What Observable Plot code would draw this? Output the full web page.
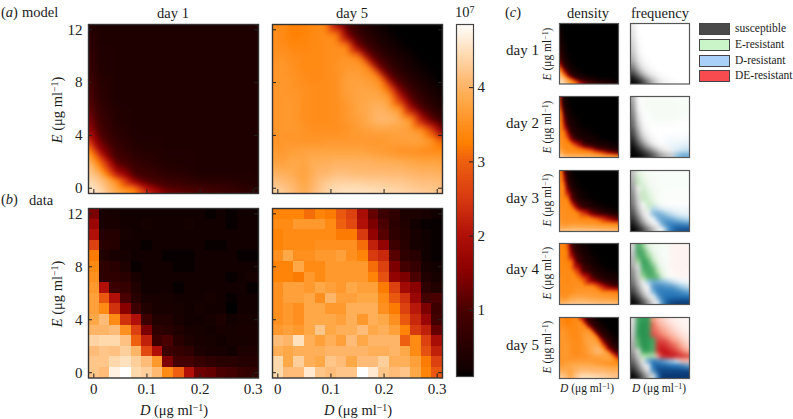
<!DOCTYPE html>
<html><head><meta charset="utf-8">
<script src="https://cdn.jsdelivr.net/npm/d3@7"></script>
<script src="https://cdn.jsdelivr.net/npm/@observablehq/plot@0.6"></script>
<style>
html,body{margin:0;background:#fff}
#c{position:relative;width:793px;height:419px;overflow:hidden;font-family:"Liberation Serif",serif;color:#1c1c1c}
#c>svg{position:absolute}
.t{position:absolute;white-space:nowrap;line-height:1;transform:translate(-50%,-50%)}
.l{position:absolute;white-space:nowrap;line-height:1;transform:translateY(-50%)}
.r{position:absolute;white-space:nowrap;line-height:1;transform:translate(-50%,-50%) rotate(-90deg)}
sup{font-size:.68em;line-height:0;vertical-align:baseline;position:relative;top:-.42em}
.sw{position:absolute;box-sizing:border-box;border:1px solid #444;width:31px;height:12px;left:699px}
</style></head><body><div id="c"></div>
<script>
// ---- colour scale (units of 10^7)
const levelStops=[0.11,0.2,0.5,1,1.5,2,2.5,3,3.24,3.5,3.8,4.1,4.4,4.85];
const levelColors=["#000000","#120000","#280000","#4a0000","#8a0000","#b01008","#d83a10","#ee6010","#ff8000","#ff9020","#ffa848","#ffbc78","#ffd8ac","#ffffff"];
const barTicks=[1,2,3,4];
const dTicks=[0,0.1,0.2,0.3];
const eTicks=[0,4,8,12];
const dDomain=[-0.01,0.31];
const eDomain=[-0.4,12.4];

// ---- panel (b): data, 16 doses of D x 16 doses of E
const dLevels=[0,0.02,0.04,0.06,0.08,0.1,0.12,0.14,0.16,0.18,0.2,0.22,0.24,0.26,0.28,0.3];
const eLevels=[12,11.2,10.4,9.6,8.8,8,7.2,6.4,5.6,4.8,4,3.2,2.4,1.6,0.8,0];
const dataDay1=[
[1.4,.3,.25,.2,.2,.2,.2,.2,.2,.2,.2,.15,.2,.15,.2,.2],
[1.7,.3,.3,.2,.2,.25,.2,.2,.2,.25,.2,.2,.2,.15,.2,.2],
[2.0,.45,.45,.25,.2,.2,.2,.2,.2,.2,.2,.2,.2,.2,.2,.2],
[2.6,.5,.45,.2,.2,.15,.2,.2,.2,.2,.2,.15,.15,.2,.2,.2],
[3.2,.4,.3,.25,.2,.2,.2,.15,.15,.15,.2,.2,.2,.2,.15,.15],
[3.4,.6,.5,.35,.15,.2,.2,.2,.15,.15,.2,.2,.2,.2,.2,.2],
[3.5,.6,.6,.5,.3,.2,.2,.2,.2,.2,.2,.2,.2,.15,.2,.25],
[3.6,2.0,.8,.7,.4,.2,.2,.2,.15,.2,.2,.2,.2,.2,.2,.15],
[3.7,2.9,2.0,1.0,.5,.3,.3,.25,.2,.2,.2,.25,.2,.15,.2,.2],
[3.7,3.4,2.4,1.5,.8,.4,.3,.3,.25,.2,.25,.2,.2,.1,.2,.2],
[3.8,4.1,3.4,2.4,2.0,.8,.4,.4,.3,.2,.2,.25,.35,.2,.25,.25],
[4.0,4.0,4.1,3.5,2.6,1.4,.6,.5,.4,.3,.25,.2,.3,.25,.3,.3],
[4.35,4.4,4.4,4.15,3.0,2.2,.8,1.0,.5,.35,.3,.25,.2,.25,.25,.3],
[4.1,4.2,4.15,4.3,4.0,2.7,2.0,.8,.7,.6,.35,.3,.3,.2,.35,.35],
[4.2,4.2,4.4,4.5,4.3,4.1,3.6,1.4,.9,.9,.7,.6,.5,.5,.45,.45],
[4.2,4.1,4.7,4.85,4.4,4.3,4.05,3.4,3.0,2.0,1.3,1.2,1.0,.9,.7,.65]];
const dataDay5=[
[3.3,3.3,3.3,3.1,3.3,3.2,2.9,2.6,1.9,1.2,.8,.6,.35,.35,.3,.2],
[3.4,3.4,3.6,3.6,3.6,3.4,3.0,2.7,2.0,1.4,1.0,.55,.4,.2,.15,.15],
[3.3,3.4,3.4,3.4,3.4,3.4,3.2,3.2,2.5,1.6,1.1,.6,.45,.3,.2,.15],
[3.3,3.4,3.4,3.4,3.5,3.5,3.5,3.5,3.1,2.2,1.6,.8,.5,.25,.2,.15],
[3.5,3.8,3.5,3.5,3.6,3.6,3.7,3.5,3.3,2.5,2.3,1.1,.6,.5,.2,.15],
[3.3,3.3,3.8,3.4,3.4,3.6,3.6,3.6,3.6,3.1,2.6,1.4,.9,.7,.3,.2],
[3.3,3.3,3.2,3.6,3.4,3.6,3.6,3.6,3.6,3.3,2.8,1.6,1.4,1.0,.4,.25],
[3.5,3.7,3.7,3.6,3.8,3.7,3.6,3.8,3.7,3.7,3.2,2.6,1.8,1.5,.6,.4],
[3.5,3.7,3.7,3.8,3.5,4.0,3.7,3.7,3.8,3.8,3.4,2.9,2.4,1.7,.9,1.0],
[3.5,3.6,3.5,3.8,3.8,3.6,3.6,3.9,3.9,3.9,3.5,3.2,2.6,2.1,1.4,.8],
[3.5,3.6,3.5,3.8,3.8,3.8,3.7,3.9,3.6,3.9,3.8,3.5,2.9,2.3,1.7,.9],
[3.6,3.7,3.6,3.8,4.2,3.8,3.9,3.9,4.1,3.8,3.9,3.7,3.3,2.5,2.2,1.2],
[4.1,4.0,4.5,3.9,3.7,3.9,3.7,4.1,3.8,4.0,4.0,4.0,3.0,3.4,2.6,1.9],
[3.9,3.8,3.9,3.9,3.9,4.0,4.0,4.0,4.0,3.9,3.9,4.0,3.8,3.4,2.8,2.2],
[4.4,3.8,4.3,3.9,3.8,4.2,4.1,3.8,4.1,4.1,4.3,3.9,3.9,3.7,3.2,2.6],
[4.4,4.1,4.1,4.6,4.2,4.1,4.2,4.2,4.85,4.6,4.2,4.1,4.2,3.8,3.3,2.9]];

// ---- panel (a): model day 1, rows per E (descending), columns per D
const m1D=[-0.01,0.0125,0.044,0.075,0.1,0.1375,0.2,0.31];
const m1E=[12.4,11,9,7,6,5,4,3,2,1.5,1,0.5,0,-0.4];
const modelDay1=[
[.4,.38,.38,.38,.38,.38,.38,.38],
[.6,.38,.38,.38,.38,.38,.38,.38],
[.75,.42,.38,.38,.38,.38,.38,.38],
[1.05,.55,.38,.38,.38,.38,.38,.38],
[1.25,.7,.42,.38,.38,.38,.38,.38],
[1.5,.85,.45,.38,.38,.38,.38,.38],
[2.1,1.05,.55,.4,.38,.38,.38,.38],
[3.3,1.6,.75,.5,.42,.38,.38,.38],
[4.1,3.0,1.05,.7,.55,.42,.38,.38],
[4.2,3.5,1.5,.85,.7,.48,.38,.38],
[4.3,3.95,2.2,1.05,.85,.6,.42,.38],
[4.45,4.2,3.45,1.8,1.1,.85,.55,.38],
[4.55,4.35,3.7,3.2,2.0,1.1,.9,.45],
[4.6,4.45,3.85,3.4,2.4,1.4,1.05,.5]];
// model day 5, 17 x 17 grid running over the whole panel
const m5D=[-0.01,0.01,0.03,0.05,0.07,0.09,0.11,0.13,0.15,0.17,0.19,0.21,0.23,0.25,0.27,0.29,0.31];
const m5E=[12.4,11.6,10.8,10,9.2,8.4,7.6,6.8,6,5.2,4.4,3.6,2.8,2,1.2,0.4,-0.4];
const modelDay5=[
[3.45,3.45,3.25,3.3,3.4,3.45,1.7,.95,.55,.35,.2,.13,.11,.11,.11,.11,.11],
[3.45,3.4,3.25,3.3,3.4,3.45,3.45,1.5,.85,.5,.3,.18,.12,.11,.11,.11,.11],
[3.5,3.45,3.35,3.35,3.4,3.45,3.5,3.45,1.4,.8,.47,.28,.17,.12,.11,.11,.11],
[3.5,3.55,3.45,3.4,3.4,3.45,3.5,3.55,3.45,1.5,.85,.5,.3,.18,.12,.11,.11],
[3.55,3.6,3.5,3.4,3.4,3.45,3.55,3.6,3.6,3.45,1.4,.8,.47,.28,.17,.12,.11],
[3.55,3.6,3.55,3.45,3.4,3.45,3.5,3.7,3.7,3.6,3.45,1.3,.75,.45,.27,.16,.12],
[3.55,3.6,3.55,3.5,3.45,3.45,3.5,3.7,3.75,3.75,3.65,2.9,1.3,.75,.45,.26,.15],
[3.55,3.6,3.6,3.5,3.45,3.45,3.5,3.65,3.75,3.8,3.8,3.7,2.3,1.15,.65,.4,.22],
[3.55,3.6,3.6,3.5,3.45,3.45,3.5,3.6,3.75,3.85,4.0,3.85,3.65,1.9,1.05,.6,.38],
[3.55,3.6,3.6,3.5,3.45,3.45,3.5,3.6,3.7,3.85,4.05,4.05,3.9,3.7,2,1.1,.6],
[3.55,3.6,3.6,3.55,3.5,3.5,3.5,3.55,3.65,3.7,3.75,3.75,3.75,3.7,3.6,2.7,1.25],
[3.55,3.6,3.55,3.55,3.55,3.6,3.6,3.6,3.6,3.6,3.6,3.65,3.7,3.75,3.75,3.6,3.0],
[3.65,3.6,3.7,3.75,3.75,3.75,3.75,3.75,3.75,3.7,3.65,3.6,3.5,3.5,3.45,3.45,3.45],
[3.75,3.7,3.85,3.75,3.9,3.9,3.95,3.95,3.95,3.95,3.9,3.9,3.85,3.8,3.75,3.75,3.7],
[3.95,3.9,3.85,3.7,3.95,4.0,4.1,4.1,4.05,4.05,4.05,4.05,4.05,4.0,3.95,3.95,3.9],
[4.2,4.1,4.0,3.75,4.05,4.25,4.35,4.35,4.35,4.3,4.3,4.25,4.25,4.2,4.15,4.15,4.1],
[4.4,4.3,4.1,3.85,4.15,4.35,4.5,4.55,4.55,4.55,4.5,4.45,4.4,4.35,4.3,4.25,4.2]];

// ---- panel (c): density, day 1 on the model-day-1 grid, days 2-4 on a shared grid
const densityDay1=[
[.12,.11,.11,.11,.11,.11,.11,.11],
[.2,.12,.11,.11,.11,.11,.11,.11],
[.3,.14,.11,.11,.11,.11,.11,.11],
[.55,.18,.12,.11,.11,.11,.11,.11],
[.8,.25,.13,.11,.11,.11,.11,.11],
[1.1,.35,.14,.12,.11,.11,.11,.11],
[1.9,.52,.18,.13,.11,.11,.11,.11],
[3.45,1.2,.27,.16,.13,.11,.11,.11],
[4.1,2.7,.55,.26,.18,.12,.11,.11],
[4.2,3.55,1.1,.38,.27,.15,.11,.11],
[4.3,3.9,2.2,.6,.4,.22,.13,.11],
[4.45,4.2,3.55,1.8,.8,.45,.2,.11],
[4.55,4.35,3.7,3.3,2.0,.9,.5,.15],
[4.6,4.45,3.85,3.4,2.4,1.4,.7,.22]];
const cU=[0,.04,.08,.13,.2,.3,.4,.55,.7,.85,1];
const cV=[0,.04,.08,.13,.2,.3,.4,.55,.7,.85,1];
const densityDay2=[
[4.5,4.4,4.3,4.3,4.2,4.2,4.2,4.15,4.1,4.05,3.9],
[4.3,4.1,3.9,3.8,3.8,3.8,3.75,3.7,3.6,3.3,3.0],
[4.1,3.8,3.6,3.55,3.5,3.5,3.5,3.45,2.9,1.7,.9],
[3.9,3.6,3.5,3.45,3.45,3.4,3.2,2.4,1.1,.6,.35],
[3.7,3.5,3.45,3.4,3.4,2.4,1.2,.6,.35,.22,.15],
[3.6,3.45,3.4,3.2,1.6,.6,.35,.22,.15,.12,.11],
[3.5,3.4,3.35,2.2,.7,.3,.2,.14,.11,.11,.11],
[3.5,3.3,1.9,.7,.3,.17,.12,.11,.11,.11,.11],
[3.4,3.1,.9,.35,.17,.12,.11,.11,.11,.11,.11],
[3.3,1.3,.4,.2,.13,.11,.11,.11,.11,.11,.11],
[3.1,.7,.25,.14,.11,.11,.11,.11,.11,.11,.11]];
const densityDay3=[
[4.3,4.3,4.3,4.3,4.3,4.3,4.3,4.25,4.2,4.2,4.15],
[4.0,3.95,3.95,4.0,4.05,4.05,4.05,4.0,4.0,3.95,3.9],
[3.85,3.75,3.7,3.75,3.8,3.8,3.8,3.8,3.75,3.7,3.6],
[3.75,3.6,3.55,3.55,3.6,3.6,3.55,3.55,3.5,3.4,3.35],
[3.65,3.55,3.5,3.5,3.5,3.5,3.45,3.4,2.8,1.9,1.1],
[3.6,3.5,3.5,3.45,3.45,3.4,2.6,1.3,.7,.4,.25],
[3.55,3.5,3.45,3.45,3.3,1.5,.7,.35,.2,.14,.12],
[3.5,3.45,3.4,3.3,1.2,.4,.2,.13,.11,.11,.11],
[3.5,3.4,3.35,1.5,.5,.2,.13,.11,.11,.11,.11],
[3.45,3.35,2.2,.6,.25,.13,.11,.11,.11,.11,.11],
[3.4,3.1,.9,.3,.15,.11,.11,.11,.11,.11,.11]];
const densityDay4=[
[4.2,4.2,4.25,4.3,4.35,4.35,4.35,4.3,4.25,4.25,4.2],
[3.95,3.85,3.85,3.95,4.05,4.1,4.1,4.05,4.0,4.0,3.95],
[3.8,3.65,3.6,3.7,3.85,3.9,3.9,3.85,3.8,3.75,3.7],
[3.65,3.55,3.5,3.55,3.7,3.75,3.75,3.7,3.65,3.6,3.55],
[3.55,3.5,3.45,3.45,3.5,3.6,3.6,3.6,3.5,3.45,3.3],
[3.5,3.45,3.45,3.45,3.45,3.5,3.5,3.45,2.4,1.3,.8],
[3.5,3.45,3.4,3.4,3.45,3.45,3.0,1.5,.7,.4,.25],
[3.45,3.4,3.4,3.4,3.4,2.6,1.1,.5,.25,.15,.12],
[3.45,3.4,3.35,3.35,3.2,1.1,.5,.22,.13,.11,.11],
[3.4,3.35,3.35,3.3,1.6,.6,.27,.14,.11,.11,.11],
[3.4,3.35,3.3,3.0,.9,.35,.17,.11,.11,.11,.11]];

// ---- panel (c): frequency, 12 x 12, rows top to bottom. Integer part = dominant type, fraction = its frequency
const types=["susceptible","E-resistant","D-resistant","DE-resistant"];
const typeSwatches=["#4a4a4a","#c9f5c9","#a9d0f9","#f74b50"];
const freqU=[.04,.125,.21,.29,.375,.458,.54,.625,.71,.79,.875,.96];
const freqV=[.96,.875,.79,.71,.625,.54,.458,.375,.29,.21,.125,.04];
const freqDay1=[
[.08,0,0,0,0,0,0,0,0,0,0,0],
[.1,0,0,0,0,0,0,0,0,0,0,0],
[.12,0,0,0,0,0,0,0,0,0,0,0],
[.15,.02,0,0,0,0,0,0,0,0,0,0],
[.18,.03,0,0,0,0,0,0,0,0,0,0],
[.22,.05,0,0,0,0,0,0,0,0,0,0],
[.28,.08,.02,0,0,0,0,0,0,0,0,0],
[.35,.13,.04,.01,0,0,0,0,0,0,0,0],
[.5,.22,.08,.03,.01,0,0,0,0,0,0,0],
[.65,.4,.18,.07,.03,.01,0,0,0,0,0,0],
[.85,.65,.42,.22,.1,.05,.02,.01,0,0,0,0],
[.97,.9,.72,.5,.28,.15,.07,.03,.02,.01,0,0]];
const freqDay2=[
[.35,1.02,1.03,1.04,1.04,1.04,1.04,1.04,1.04,1.03,1.03,1.03],
[.4,.03,1.03,1.05,1.05,1.05,1.05,1.05,1.05,1.04,1.04,1.04],
[.45,.05,1.02,1.04,1.05,1.05,1.05,1.05,1.05,1.04,1.04,1.04],
[.5,.1,.01,1.03,1.04,1.05,1.05,1.05,1.05,1.04,1.04,1.03],
[.55,.15,.02,1.01,1.03,1.04,1.04,1.04,1.03,1.03,1.02,1.02],
[.6,.22,.04,.01,1.01,1.02,1.02,1.02,1.02,1.01,1.01,1.01],
[.68,.32,.08,.02,0,0,0,0,0,0,0,0],
[.75,.42,.15,.05,.01,0,0,2.02,2.02,2.02,2.02,2.03],
[.85,.55,.27,.1,.03,.01,2.01,2.03,2.04,2.05,2.05,2.06],
[.93,.72,.48,.25,.1,.04,.02,2.05,2.08,2.1,2.12,2.15],
[.98,.88,.72,.55,.38,.2,.1,.05,2.1,2.15,2.2,2.25],
[.99,.97,.9,.8,.65,.5,.35,.25,.2,2.5,2.6,2.6]];
const freqDay3=[
[.25,1.15,1.08,1.05,1.04,1.03,1.03,1.03,1.03,1.03,1.03,1.03],
[.3,1.25,1.12,1.07,1.05,1.04,1.03,1.03,1.03,1.03,1.03,1.03],
[.35,1.3,1.17,1.08,1.05,1.04,1.03,1.03,1.03,1.03,1.03,1.03],
[.4,.05,1.25,1.12,1.06,1.05,1.03,1.03,1.03,1.03,1.03,1.03],
[.45,.1,1.32,1.18,1.08,1.05,1.03,1.02,1.02,1.02,1.02,1.02],
[.5,.15,1.3,1.25,1.1,1.05,1.03,1.02,1.02,1.02,1.02,1.02],
[.55,.2,.02,1.3,1.2,1.08,1.03,1.02,1.01,1.01,1.01,1.01],
[.62,.28,.05,1.2,2.35,2.3,2.15,2.1,2.08,2.06,2.06,2.06],
[.7,.4,.12,.02,2.55,2.6,2.55,2.4,2.25,2.15,2.1,2.1],
[.8,.55,.25,.06,.01,2.55,2.65,2.65,2.6,2.5,2.4,2.3],
[.9,.72,.45,.2,.06,.01,2.6,2.75,2.78,2.78,2.75,2.72],
[.98,.9,.72,.5,.28,.1,.02,2.6,2.85,2.9,2.92,2.92]];
const freqDay4=[
[.15,1.75,1.55,1.15,1.08,1.06,1.05,1.04,3.05,3.05,3.05,3.05],
[.2,1.75,1.7,1.35,1.1,1.07,1.05,1.04,3.05,3.06,3.06,3.06],
[.25,1.7,1.75,1.55,1.2,1.08,1.05,1.04,3.05,3.06,3.06,3.06],
[.3,1.5,1.78,1.7,1.35,1.1,1.06,1.04,3.05,3.06,3.06,3.06],
[.35,.1,1.75,1.75,1.6,1.2,1.08,1.05,3.05,3.06,3.06,3.06],
[.45,.15,1.65,1.75,1.7,1.4,1.12,1.05,3.04,3.06,3.06,3.05],
[.5,.2,1.45,1.7,1.7,1.65,1.25,1.06,1.03,3.03,3.04,3.04],
[.55,.27,.05,2.4,2.6,2.6,2.55,2.45,2.3,2.15,2.1,2.08],
[.65,.38,.1,.02,2.7,2.75,2.75,2.72,2.7,2.6,2.45,2.3],
[.75,.52,.22,.05,2.55,2.78,2.8,2.8,2.8,2.78,2.72,2.65],
[.88,.7,.42,.15,.03,2.6,2.8,2.85,2.85,2.85,2.85,2.85],
[.97,.88,.68,.42,.15,.03,2.7,2.9,2.95,2.97,2.97,2.97]];
const freqDay5=[
[.12,1.75,1.8,1.8,3.5,3.35,3.25,3.15,3.1,3.07,3.05,3.04],
[.15,1.78,1.82,1.8,3.6,3.45,3.35,3.25,3.15,3.1,3.07,3.05],
[.18,1.8,1.82,1.8,3.6,3.55,3.45,3.35,3.25,3.15,3.1,3.07],
[.22,1.8,1.82,1.8,3.65,3.6,3.55,3.45,3.35,3.25,3.15,3.1],
[.27,1.7,1.82,1.8,1.75,3.65,3.65,3.6,3.5,3.4,3.25,3.15],
[.33,1.65,1.82,1.8,1.72,3.7,3.72,3.68,3.62,3.55,3.4,3.25],
[.4,.1,1.78,1.78,1.7,3.7,3.78,3.75,3.7,3.65,3.55,3.42],
[.5,.2,1.4,1.45,1.4,3.4,3.7,3.75,3.75,3.72,3.7,3.65],
[.6,.32,.08,2.65,2.8,2.75,2.7,2.55,2.4,2.2,3.3,3.3],
[.72,.48,.15,.03,2.85,2.9,2.88,2.88,2.85,2.85,2.8,2.7],
[.85,.65,.35,.1,2.7,2.92,2.95,2.95,2.95,2.95,2.95,2.95],
[.97,.85,.6,.32,.1,2.75,2.98,2.98,2.98,2.98,2.98,2.98]];
const freqStops=[0,.999, 1,1.5,1.8,1.999, 2,2.5,2.85,2.999, 3,3.5,3.75,3.999];
const freqColors=["#ffffff","#000000",
 "#ffffff","#a1d99b","#2f9a55","#00441b",
 "#ffffff","#8fc2e0","#2171b5","#08306b",
 "#ffffff","#f99a80","#cb181d","#67000d"];

// ---- helpers
const serif='"Liberation Serif",serif', ink="#222";
const root=document.getElementById("c");
const levelScale={type:"linear",domain:levelStops,range:levelColors,clamp:true};
const freqScale={type:"linear",domain:freqStops,range:freqColors,clamp:true};
function gridPoints(xs,ys,rows){return rows.flatMap((r,j)=>r.map((v,i)=>({x:xs[i],y:ys[j],v})));}
function place(box,xdom,ydom,color,marks,m={}){
  const L=m.l??0,R=m.r??0,T=m.t??0,B=m.b??0;
  const svg=Plot.plot({width:box.w+L+R,height:box.h+T+B,marginLeft:L,marginRight:R,marginTop:T,marginBottom:B,
    x:{domain:xdom,axis:null},y:{domain:ydom,axis:null},color,
    style:{fontFamily:serif,fontSize:m.fs||"15px",background:"transparent",overflow:"visible"},marks});
  svg.style.left=(box.x-L)+"px";svg.style.top=(box.y-T)+"px";root.appendChild(svg);
}
function text(cls,x,y,size,html){const d=document.createElement("div");d.className=cls;d.style.left=x+"px";d.style.top=y+"px";d.style.fontSize=size+"px";d.innerHTML=html;root.appendChild(d);}
const unitE='<i>E</i> (μg ml<sup>−1</sup>)',unitD='<i>D</i> (μg ml<sup>−1</sup>)';

function mainTicks(box){return[
  Plot.tickY(eTicks,{y:d=>d,insetRight:box.w-4,stroke:ink,strokeWidth:1}),
  Plot.tickX(dTicks,{x:d=>d,insetTop:box.h-4,stroke:ink,strokeWidth:1}),
  Plot.tickY(eTicks,{y:d=>d,insetLeft:box.w-4,stroke:ink,strokeWidth:1})];}
function mainPanel(box,body,opts){
  const ax=[];
  if(opts.yl)ax.push(Plot.axisY(eTicks,{anchor:"left",tickSize:0,tickPadding:6,label:null,fill:ink,fontSize:15}));
  if(opts.xl)ax.push(Plot.axisX(dTicks,{anchor:"bottom",tickSize:0,tickPadding:5,label:null,fill:ink,fontSize:15,tickFormat:d=>d===0?"0":String(d)}));
  place(box,dDomain,eDomain,levelScale,[...body,...mainTicks(box),Plot.frame({stroke:"#333",strokeWidth:1.4}),...ax],{l:30,r:1,t:1,b:22});
}
function rasterLevel(points,blur){return Plot.raster(points,{x:"x",y:"y",fill:"v",interpolate:"barycentric",blur,x1:dDomain[0],x2:dDomain[1],y1:eDomain[0],y2:eDomain[1]});}
function cells(matrix){
  const pts=matrix.flatMap((r,j)=>r.map((v,i)=>({d:dLevels[i],e:eLevels[j],v})));
  return Plot.rect(pts,{x1:p=>p.d-.01,x2:p=>p.d+.01,y1:p=>p.e-.4,y2:p=>p.e+.4,fill:"v",shapeRendering:"crispEdges"});
}

// ---- panels (a), (b)
const A1={x:88,y:24,w:170,h:169},A5={x:272,y:24,w:170,h:169},B1={x:88,y:208,w:170,h:169.5},B5={x:272,y:208,w:170,h:169.5};
mainPanel(A1,[rasterLevel(gridPoints(m1D,m1E,modelDay1),1.5)],{yl:true});
mainPanel(A5,[rasterLevel(gridPoints(m5D,m5E,modelDay5),2.5)],{});
mainPanel(B1,[cells(dataDay1)],{yl:true,xl:true});
mainPanel(B5,[cells(dataDay5)],{xl:true});

// ---- colour bar
const barDomain=[levelStops[0],levelStops[levelStops.length-1]];
const barLevels=d3.range(barDomain[0],barDomain[1],0.02);
place({x:456,y:24,w:17,h:352},[0,1],barDomain,levelScale,[
  Plot.rect(barLevels,{x1:0,x2:1,y1:d=>d,y2:d=>d+0.02,fill:d=>d,shapeRendering:"crispEdges"}),
  Plot.tickY(barTicks,{y:d=>d,insetLeft:13,stroke:ink}),
  Plot.frame({stroke:"#444",strokeWidth:1.2}),
  Plot.axisY(barTicks,{anchor:"right",tickSize:0,tickPadding:4,label:null,fill:ink,fontSize:15,tickFormat:d=>String(d)})
],{l:1,r:22,t:1,b:1});

// ---- panel (c)
const cRows=[{y:23,h:60.5},{y:96,h:61},{y:169.5,h:61},{y:243,h:61},{y:316.5,h:61}];
const frequencies=[freqDay1,freqDay2,freqDay3,freqDay4,freqDay5];
const dens=[
  {xs:m1D,ys:m1E,rows:densityDay1,xd:dDomain,yd:eDomain},
  {xs:cU,ys:cV,rows:densityDay2,xd:[0,1],yd:[0,1]},
  {xs:cU,ys:cV,rows:densityDay3,xd:[0,1],yd:[0,1]},
  {xs:cU,ys:cV,rows:densityDay4,xd:[0,1],yd:[0,1]},
  {xs:m5D,ys:m5E,rows:modelDay5,xd:dDomain,yd:eDomain}];
cRows.forEach((r,k)=>{
  const dd=dens[k];
  place({x:559,y:r.y,w:59,h:r.h},dd.xd,dd.yd,levelScale,[
    Plot.raster(gridPoints(dd.xs,dd.ys,dd.rows),{x:"x",y:"y",fill:"v",interpolate:"barycentric",blur:1,x1:dd.xd[0],x2:dd.xd[1],y1:dd.yd[0],y2:dd.yd[1]}),
    Plot.frame({stroke:"#555",strokeWidth:1.2})],{l:1,r:1,t:1,b:1});
  place({x:629.5,y:r.y,w:59,h:r.h},[0,1],[0,1],freqScale,[
    Plot.raster(gridPoints(freqU,freqV,frequencies[k]),{x:"x",y:"y",fill:"v",interpolate:"nearest",blur:1.6,x1:0,x2:1,y1:0,y2:1}),
    Plot.frame({stroke:"#555",strokeWidth:1.2})],{l:1,r:1,t:1,b:1});
});

// ---- text
text("l",1,12,14.5,"(<i>a</i>)");text("l",22,12,14.5,"model");
text("t",173,13,14.5,"day 1");text("t",352,13,14.5,"day 5");
text("l",455,12,14.5,"10<sup>7</sup>");
text("l",1,199,14.5,"(<i>b</i>)");text("l",29,200,14.5,"data");
text("r",57,110,14.5,unitE);text("r",57,294,14.5,unitE);
text("t",174,410,14.5,unitD);text("t",358,410,14.5,unitD);
text("l",505,12,14.5,"(<i>c</i>)");
text("t",588,13,14.5,"density");text("t",660,13,14.5,"frequency");
[50,123,198,269,345].forEach((y,i)=>text("l",506,y,15,"day "+(i+1)));
[54,127,200,273,347].forEach(y=>text("r",548,y,11.5,unitE));
text("t",587,389,11.5,unitD);text("t",659,389,11.5,unitD);
[23,39,54.5,70].forEach((y,i)=>{
  const s=document.createElement("div");s.className="sw";s.style.top=y+"px";s.style.background=typeSwatches[i];root.appendChild(s);
  text("l",735,y+6,11.5,types[i]);
});
</script></body></html>
